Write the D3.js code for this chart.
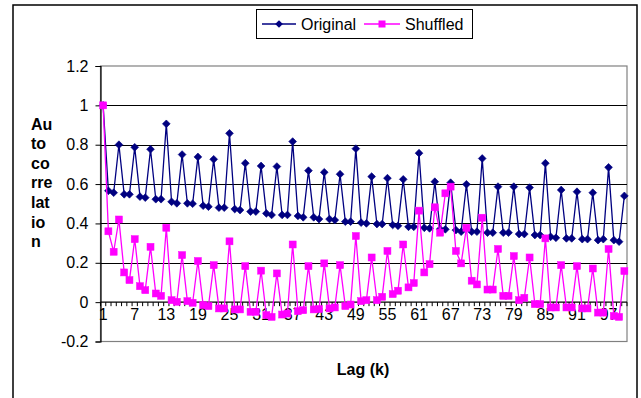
<!DOCTYPE html>
<html>
<head>
<meta charset="utf-8">
<script src="https://cdn.jsdelivr.net/npm/d3@7"></script>
<style>
  body { margin: 0; background: #fff; }
  text { font-family: Arial, "Liberation Sans", sans-serif; }
</style>
</head>
<body>
<svg id="chart" width="641" height="398"></svg>
<script>
// lag categories 1..100
const lags = d3.range(1, 101);

const original = [
  1.0, 0.566, 0.556, 0.80, 0.548, 0.548, 0.787, 0.536, 0.531, 0.777,
  0.523, 0.523, 0.906, 0.51, 0.502, 0.75, 0.502, 0.50, 0.738, 0.49,
  0.485, 0.726, 0.48, 0.48, 0.858, 0.473, 0.468, 0.706, 0.46, 0.46,
  0.692, 0.451, 0.443, 0.689, 0.443, 0.443, 0.816, 0.438, 0.431, 0.668,
  0.431, 0.422, 0.66, 0.422, 0.417, 0.65, 0.409, 0.409, 0.78, 0.404,
  0.40, 0.638, 0.397, 0.397, 0.63, 0.392, 0.388, 0.624, 0.383, 0.383,
  0.757, 0.378, 0.375, 0.612, 0.371, 0.37, 0.607, 0.366, 0.358, 0.599,
  0.358, 0.358, 0.73, 0.353, 0.353, 0.587, 0.353, 0.353, 0.587, 0.346,
  0.346, 0.582, 0.341, 0.341, 0.706, 0.332, 0.327, 0.57, 0.324, 0.324,
  0.561, 0.32, 0.32, 0.556, 0.315, 0.32, 0.685, 0.315, 0.307, 0.54
];

const shuffled = [
  1.0, 0.36, 0.256, 0.42, 0.151, 0.112, 0.32, 0.081, 0.061, 0.281,
  0.044, 0.032, 0.378, 0.01, 0.002, 0.239, 0.005, -0.003, 0.209, -0.015,
  -0.02, 0.188, -0.032, -0.032, 0.309, -0.037, -0.037, 0.183, -0.049, -0.049,
  0.16, -0.066, -0.075, 0.146, -0.063, -0.058, 0.293, -0.046, -0.041, 0.183,
  -0.037, -0.035, 0.197, -0.032, -0.027, 0.188, -0.02, -0.012, 0.336, 0.005,
  0.01, 0.227, 0.01, 0.027, 0.26, 0.041, 0.058, 0.293, 0.075, 0.097,
  0.465, 0.151, 0.193, 0.482, 0.353, 0.553, 0.587, 0.26, 0.197, 0.378,
  0.109, 0.09, 0.429, 0.064, 0.064, 0.27, 0.032, 0.032, 0.234, 0.01,
  0.022, 0.227, -0.01, -0.01, 0.324, -0.027, -0.027, 0.188, -0.027, -0.027,
  0.183, -0.032, -0.032, 0.171, -0.053, -0.053, 0.27, -0.07, -0.075, 0.158
];

const yTicks = [-0.2, 0, 0.2, 0.4, 0.6, 0.8, 1.0, 1.2];
const xLabelLags = [1, 7, 13, 19, 25, 31, 37, 43, 49, 55, 61, 67, 73, 79, 85, 91, 97];
const yTitleLines = ['Au', 'to', 'co', 'rre', 'lat', 'io', 'n'];

const originalColor = '#000080';
const shuffledColor = '#ff00ff';

const plot = { left: 100.5, right: 627, top: 66, bottom: 341.5 };

const svg = d3.select('#chart');

// chart border
svg.append('rect')
  .attr('x', 13).attr('y', 5)
  .attr('width', 624).attr('height', 420)
  .attr('fill', '#fff')
  .attr('stroke', '#000')
  .attr('stroke-width', 1.5);

const x = d3.scaleBand()
  .domain(lags)
  .range([plot.left, plot.right])
  .padding(0);
const bw = x.bandwidth();
const cx = lag => x(lag) + bw / 2;

const y = d3.scaleLinear()
  .domain([-0.2, 1.2])
  .range([plot.bottom, plot.top]);

// plot area border
svg.append('rect')
  .attr('x', plot.left).attr('y', plot.top)
  .attr('width', plot.right - plot.left).attr('height', plot.bottom - plot.top)
  .attr('fill', 'none')
  .attr('stroke', '#808080')
  .attr('stroke-width', 1.2);

// gridlines
svg.append('g')
  .selectAll('line')
  .data(yTicks.filter(v => v > -0.2 && v < 1.2 && v !== 0))
  .enter()
  .append('line')
  .attr('x1', plot.left).attr('x2', plot.right)
  .attr('y1', d => Math.round(y(d)) + 0.5).attr('y2', d => Math.round(y(d)) + 0.5)
  .attr('stroke', '#000')
  .attr('stroke-width', 1);

// y axis
const yAxis = svg.append('g')
  .attr('transform', 'translate(' + plot.left + ',0)')
  .call(d3.axisLeft(y)
    .tickValues(yTicks)
    .tickSize(5)
    .tickPadding(7)
    .tickFormat(d => String(+d.toFixed(1))));
yAxis.select('.domain').attr('stroke', '#000').attr('stroke-width', 1.2);
yAxis.selectAll('.tick line').attr('stroke', '#000');
yAxis.selectAll('text')
  .style('font-size', '16px')
  .attr('fill', '#000');

// x axis at zero
const y0 = y(0);
svg.append('line')
  .attr('x1', plot.left).attr('x2', plot.right)
  .attr('y1', y0).attr('y2', y0)
  .attr('stroke', '#000')
  .attr('stroke-width', 1.2);

svg.append('g')
  .selectAll('line')
  .data(lags.concat([null]))
  .enter()
  .append('line')
  .attr('x1', d => d === null ? plot.right : x(d))
  .attr('x2', d => d === null ? plot.right : x(d))
  .attr('y1', y0).attr('y2', y0 + 4)
  .attr('stroke', '#000')
  .attr('stroke-width', 1);

const xAxis = svg.append('g')
  .attr('transform', 'translate(0,' + y0 + ')')
  .call(d3.axisBottom(x)
    .tickValues(xLabelLags)
    .tickSize(0)
    .tickPadding(6));
xAxis.select('.domain').remove();
xAxis.selectAll('text')
  .style('font-size', '16px')
  .attr('fill', '#000');

// series lines
const line = d3.line()
  .x((d, i) => cx(lags[i]))
  .y(d => y(d));

svg.append('path')
  .datum(original)
  .attr('fill', 'none')
  .attr('stroke', originalColor)
  .attr('stroke-width', 1.3)
  .attr('d', line);

svg.append('g')
  .selectAll('path')
  .data(original)
  .enter()
  .append('path')
  .attr('d', d3.symbol(d3.symbolSquare, 30))
  .attr('transform', (d, i) => 'translate(' + cx(lags[i]) + ',' + y(d) + ') rotate(45)')
  .attr('fill', originalColor)
  .attr('stroke', originalColor)
  .attr('stroke-width', 0.6);

svg.append('path')
  .datum(shuffled)
  .attr('fill', 'none')
  .attr('stroke', shuffledColor)
  .attr('stroke-width', 1.3)
  .attr('d', line);

svg.append('g')
  .selectAll('rect')
  .data(shuffled)
  .enter()
  .append('rect')
  .attr('x', (d, i) => cx(lags[i]) - 3.5)
  .attr('y', d => y(d) - 3.5)
  .attr('width', 7)
  .attr('height', 7)
  .attr('fill', shuffledColor)
  .attr('stroke', shuffledColor)
  .attr('stroke-width', 0.5);

// y title, broken into lines like the original
svg.append('g')
  .selectAll('text')
  .data(yTitleLines)
  .enter()
  .append('text')
  .attr('x', 31)
  .attr('y', (d, i) => 129.5 + i * 19.6)
  .style('font-size', '16px')
  .style('font-weight', 'bold')
  .text(d => d);

// x title
svg.append('text')
  .attr('x', 363)
  .attr('y', 375)
  .attr('text-anchor', 'middle')
  .style('font-size', '16px')
  .style('font-weight', 'bold')
  .text('Lag (k)');

// legend
const legend = svg.append('g');
legend.append('rect')
  .attr('x', 256.5).attr('y', 9.5)
  .attr('width', 216).attr('height', 29)
  .attr('fill', '#fff')
  .attr('stroke', '#000')
  .attr('stroke-width', 1);

const legendY = 24;
legend.append('line')
  .attr('x1', 262).attr('x2', 296)
  .attr('y1', legendY).attr('y2', legendY)
  .attr('stroke', originalColor).attr('stroke-width', 1.3);
legend.append('path')
  .attr('d', d3.symbol(d3.symbolSquare, 30))
  .attr('transform', 'translate(279,' + legendY + ') rotate(45)')
  .attr('fill', originalColor);
legend.append('text')
  .attr('x', 301)
  .attr('y', legendY + 6)
  .style('font-size', '16px')
  .text('Original');

legend.append('line')
  .attr('x1', 364).attr('x2', 400)
  .attr('y1', legendY).attr('y2', legendY)
  .attr('stroke', shuffledColor).attr('stroke-width', 1.3);
legend.append('rect')
  .attr('x', 382 - 3.5).attr('y', legendY - 3.5)
  .attr('width', 7).attr('height', 7)
  .attr('fill', shuffledColor);
legend.append('text')
  .attr('x', 405)
  .attr('y', legendY + 6)
  .style('font-size', '16px')
  .text('Shuffled');
</script>
</body>
</html>
